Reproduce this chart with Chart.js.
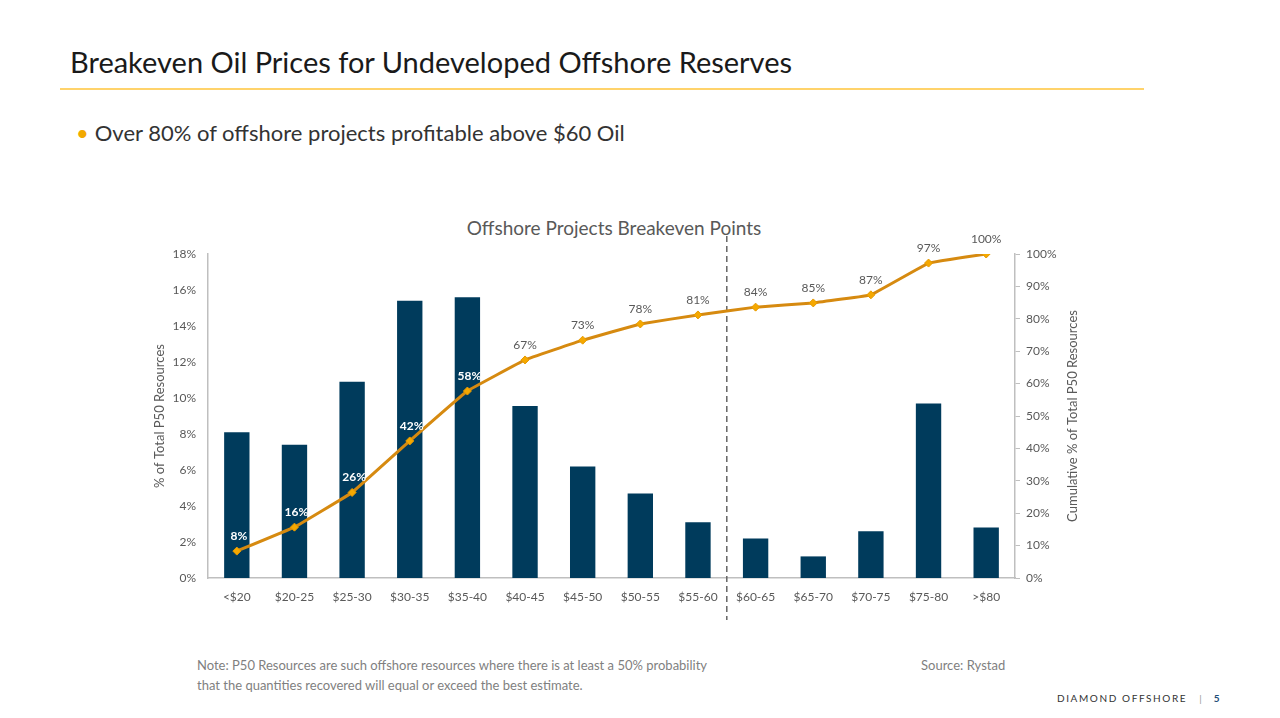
<!DOCTYPE html>
<html>
<head>
<meta charset="utf-8">
<script src="https://cdn.jsdelivr.net/npm/chart.js@4.4.0/dist/chart.umd.min.js"></script>
<style>
  body { margin: 0; width: 1280px; height: 718px; background: #fff; position: relative; overflow: hidden; font-family: Lato, "Open Sans", sans-serif; }
  .title { position: absolute; left: 70px; top: 44px; font-size: 29px; color: #1a1a1a; white-space: nowrap; }
  .rule { position: absolute; left: 60px; top: 88px; width: 1084px; height: 2px; background: #FFD36B; }
  .bullet { position: absolute; left: 76px; top: 119px; font-size: 22px; color: #333; white-space: nowrap; }
  .bullet span { color: #F2A900; margin-right: 6px; }
  .chart-title { position: absolute; left: 0; width: 1228px; top: 216px; text-align: center; font-size: 19px; color: #595959; }
  .chart-box { position: absolute; left: 140px; top: 200px; }
  .note { position: absolute; left: 197px; top: 655px; font-size: 13px; line-height: 20px; color: #7f7f7f; }
  .source { position: absolute; left: 921px; top: 655px; font-size: 13px; line-height: 20px; color: #7f7f7f; }
  .footer { position: absolute; left: 1057px; top: 692px; font-size: 10px; letter-spacing: 1.6px; color: #333; white-space: nowrap; }
  .footer b { color: #1F4E79; letter-spacing: 0; margin-left: 12px; }
  .footer i { font-style: normal; color: #999; margin-left: 12px; letter-spacing: 0; }
</style>
</head>
<body>
<div class="title">Breakeven Oil Prices for Undeveloped Offshore Reserves</div>
<div class="rule"></div>
<div class="bullet"><span>•</span>Over 80% of offshore projects profitable above $60 Oil</div>
<div class="chart-title">Offshore Projects Breakeven Points</div>
<div class="chart-box"><canvas id="chart" width="945" height="430"></canvas></div>
<div class="note">Note: P50 Resources are such offshore resources where there is at least a 50% probability<br>that the quantities recovered will equal or exceed the best estimate.</div>
<div class="source">Source: Rystad</div>
<div class="footer">DIAMOND OFFSHORE<i>|</i><b>5</b></div>
<script>
const categories = ['<$20', '$20-25', '$25-30', '$30-35', '$35-40', '$40-45', '$45-50',
    '$50-55', '$55-60', '$60-65', '$65-70', '$70-75', '$75-80', '>$80'];
const shareValues = [8.1, 7.4, 10.9, 15.4, 15.6, 9.55, 6.2, 4.7, 3.1, 2.2, 1.2, 2.6, 9.7, 2.8];
const cumulativeValues = [8.3, 15.7, 26.4, 42.3, 57.7, 67.3, 73.4, 78.4, 81.2, 83.6, 84.9, 87.4, 97.2, 100];
const leftTicks = [0, 2, 4, 6, 8, 10, 12, 14, 16, 18];
const rightTicks = [0, 10, 20, 30, 40, 50, 60, 70, 80, 90, 100];

const FONT = 'Lato, "Open Sans", sans-serif';
const GREY = '#595959';
const AXIS = '#BFBFBF';

const overlay = {
    id: 'overlay',
    beforeDatasetsDraw(chart) {
        const {ctx, scales: {x}, chartArea} = chart;
        const xs = (x.getPixelForValue(8) + x.getPixelForValue(9)) / 2;
        ctx.save();
        ctx.setLineDash([6, 4]);
        ctx.strokeStyle = '#666';
        ctx.lineWidth = 1.5;
        ctx.beginPath();
        ctx.moveTo(xs, chartArea.top - 18);
        ctx.lineTo(xs, chartArea.bottom + 42);
        ctx.stroke();
        ctx.restore();
    },
    afterDatasetsDraw(chart) {
        const {ctx, chartArea} = chart;
        const points = chart.getDatasetMeta(1).data;
        ctx.save();
        ctx.textAlign = 'center';
        ctx.textBaseline = 'bottom';
        points.forEach((p, i) => {
            const inside = i < 5;
            ctx.font = (inside ? 'bold ' : '') + '12px ' + FONT;
            ctx.fillStyle = inside ? '#fff' : GREY;
            ctx.fillText(Math.round(cumulativeValues[i]) + '%', p.x + (inside ? 2 : 0), p.y - 9);
        });
        // right axis title reads bottom-to-top like the left one
        ctx.translate(chartArea.right + 58, (chartArea.top + chartArea.bottom) / 2);
        ctx.rotate(-Math.PI / 2);
        ctx.textBaseline = 'middle';
        ctx.font = '13px ' + FONT;
        ctx.fillStyle = GREY;
        ctx.fillText('Cumulative % of Total P50 Resources', 0, 0);
        ctx.restore();
    }
};

new Chart(document.getElementById('chart'), {
    data: {
        labels: categories,
        datasets: [{
            type: 'bar',
            data: shareValues,
            yAxisID: 'y',
            backgroundColor: '#003B5C',
            barPercentage: 0.44,
            categoryPercentage: 1,
            order: 2
        }, {
            type: 'line',
            data: cumulativeValues,
            yAxisID: 'y2',
            borderColor: '#D68A10',
            borderWidth: 3,
            pointStyle: 'rectRot',
            pointRadius: 4,
            pointBackgroundColor: '#F5A800',
            pointBorderColor: '#E69A00',
            pointBorderWidth: 1,
            tension: 0.05,
            order: 1
        }]
    },
    options: {
        responsive: false,
        animation: false,
        layout: {padding: {top: 54, left: 0, right: 0, bottom: 0}},
        plugins: {legend: {display: false}, tooltip: {enabled: false}},
        scales: {
            x: {
                grid: {display: false, drawTicks: false},
                border: {color: AXIS, width: 1.5},
                ticks: {color: GREY, font: {family: FONT, size: 12}, padding: 12, maxRotation: 0, autoSkip: false},
                afterFit: s => { s.height = 52; }
            },
            y: {
                position: 'left',
                min: 0, max: 18,
                grid: {display: false, drawTicks: false},
                border: {color: AXIS, width: 1.5},
                afterBuildTicks: s => { s.ticks = leftTicks.map(v => ({value: v})); },
                ticks: {color: GREY, font: {family: FONT, size: 12}, padding: 12, callback: v => v + '%'},
                title: {display: true, text: '% of Total P50 Resources', color: GREY,
                    font: {family: FONT, size: 13}, padding: {top: 12, bottom: 0}},
                afterFit: s => { s.width = 68; }
            },
            y2: {
                position: 'right',
                min: 0, max: 100,
                grid: {display: true, drawOnChartArea: false, drawTicks: true, tickLength: 5, color: AXIS},
                border: {color: AXIS, width: 1.5},
                afterBuildTicks: s => { s.ticks = rightTicks.map(v => ({value: v})); },
                ticks: {color: GREY, font: {family: FONT, size: 12}, padding: 6, callback: v => v + '%'},
                afterFit: s => { s.width = 70; }
            }
        }
    },
    plugins: [overlay]
});
</script>
</body>
</html>
